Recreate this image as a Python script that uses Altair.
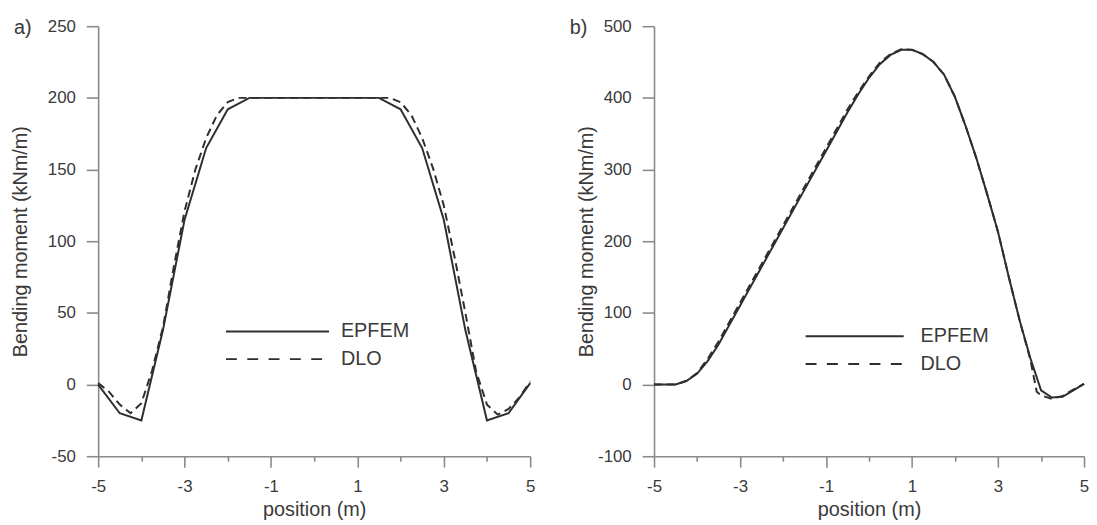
import altair as alt
import pandas as pd

# ---------------- data ----------------
# panel a) EPFEM
a_epfem_x = [-5, -4.5, -4, -3.5, -3, -2.5, -2, -1.5, -1, 0, 1, 1.5, 2, 2.5, 3, 3.5, 4, 4.5, 5]
a_epfem_y = [0, -20, -25, 38, 115, 165, 192, 200, 200, 200, 200, 200, 192, 165, 115, 38, -25, -20, 1]
# panel a) DLO
a_dlo_x = [-5, -4.75, -4.5, -4.25, -4, -3.75, -3.5, -3.25, -3, -2.75, -2.5, -2.25, -2, -1.75,
           0, 1.75, 2, 2.25, 2.5, 2.75, 3, 3.25, 3.5, 3.75, 4, 4.25, 4.5, 4.75, 5]
a_dlo_y = [1, -5, -14, -20, -13, 10, 40, 82, 121, 150, 172, 188, 197, 200,
           200, 200, 197, 188, 172, 151, 125, 89, 50, 9, -14, -21, -17, -9, 2]

# panel b) EPFEM
b_epfem_x = [-5, -4.75, -4.5, -4.25, -4, -3.75, -3.5, -3.25, -3, -2.5, -2, -1.5, -1, -0.5, -0.25,
             0, 0.25, 0.5, 0.75, 1, 1.25, 1.5, 1.75, 2, 2.25, 2.5, 2.75, 3, 3.25, 3.5, 3.75,
             4, 4.25, 4.5, 4.75, 5]
b_epfem_y = [0, 0, 0, 5, 15, 33, 56, 83, 110, 164, 218, 272, 326, 380, 405,
             428, 447, 460, 467, 467, 461, 450, 432, 401, 360, 315, 265, 213, 150, 90, 37,
             -8, -18, -17, -8, 1]
# panel b) DLO
b_dlo_x = [-5, -4.75, -4.5, -4.25, -4, -3.75, -3.5, -3.25, -3, -2.5, -2, -1.5, -1, -0.5, -0.25,
           0, 0.25, 0.5, 0.75, 1, 1.25, 1.5, 1.75, 2, 2.25, 2.5, 2.75, 3, 3.25, 3.5, 3.75,
           3.9, 4, 4.25, 4.5, 4.75, 5]
b_dlo_y = [0, 0, 0, 5, 16, 36, 60, 87, 114, 168, 222, 276, 330, 384, 408,
           430, 449, 461, 468, 467, 461, 450, 432, 401, 360, 315, 265, 213, 150, 90, 35,
           -10, -15, -20, -16, -7, 1]

legend_labels = ["EPFEM", "DLO"]
panel_tags = ["a)", "b)"]
y_title = "Bending moment (kNm/m)"
x_title = "position (m)"

INK = "#2e2e2e"
AXIS = "#8a8a8a"
TXT = "#3a3a3a"
FONT = "Liberation Sans"


def panel(ex, ey, dx, dy, ydom, ystep, ylab, tag, width, leg, ytpad):
    x_scale = alt.Scale(domain=[-5, 5], nice=False, zero=False)
    y_scale = alt.Scale(domain=ydom, nice=False, zero=False)
    x_axis = alt.Axis(
        values=list(range(-5, 6)),
        labelExpr="datum.value % 2 == 0 ? '' : toString(datum.value)",
        tickSize={"condition": {"test": "datum.value % 2 == 0", "value": 5}, "value": 11},
        labelPadding=12, labelFlush=False, labelOverlap=False, labelBound=False,
        title=x_title, titlePadding=5,
    )
    y_axis = alt.Axis(
        values=list(range(ydom[0], ydom[1] + 1, ystep)),
        labelExpr=f"datum.value % {ylab} == 0 ? toString(datum.value) : ''",
        tickSize={"condition": {"test": f"datum.value % {ylab} == 0", "value": 12}, "value": 5},
        labelPadding=11, labelFlush=False, labelOverlap=False,
        minExtent=52, maxExtent=52,
        title=y_title, titlePadding=ytpad,
    )
    df_e = pd.DataFrame({"x": ex, "y": ey})
    df_d = pd.DataFrame({"x": dx, "y": dy})
    e_line = alt.Chart(df_e).mark_line(color=INK, strokeWidth=2).encode(
        x=alt.X("x:Q", scale=x_scale, axis=x_axis),
        y=alt.Y("y:Q", scale=y_scale, axis=y_axis),
    )
    d_line = alt.Chart(df_d).mark_line(color=INK, strokeWidth=2, strokeDash=[8, 5]).encode(
        x=alt.X("x:Q", scale=x_scale),
        y=alt.Y("y:Q", scale=y_scale),
    )
    one = pd.DataFrame({"k": [0]})
    lx0, lx1, tx, r1, r2 = leg
    leg_solid = alt.Chart(one).mark_rule(color=INK, strokeWidth=2).encode(
        x=alt.value(lx0), x2=alt.value(lx1), y=alt.value(r1))
    leg_dash = alt.Chart(one).mark_rule(color=INK, strokeWidth=2, strokeDash=[11, 10.5]).encode(
        x=alt.value(lx0), x2=alt.value(lx1), y=alt.value(r2))
    leg_t1 = alt.Chart(one).mark_text(text=legend_labels[0], align="left", baseline="middle",
                                      fontSize=20, font=FONT, color=TXT).encode(
        x=alt.value(tx), y=alt.value(r1))
    leg_t2 = alt.Chart(one).mark_text(text=legend_labels[1], align="left", baseline="middle",
                                      fontSize=20, font=FONT, color=TXT).encode(
        x=alt.value(tx), y=alt.value(r2))
    tag_t = alt.Chart(one).mark_text(text=tag, align="left", baseline="middle",
                                     fontSize=20, font=FONT, color=TXT).encode(
        x=alt.value(-85), y=alt.value(1.5))
    return alt.layer(e_line, d_line, leg_solid, leg_dash, leg_t1, leg_t2, tag_t).properties(
        width=width, height=434)


left = panel(a_epfem_x, a_epfem_y, a_dlo_x, a_dlo_y, [-50, 250], 25, 50, panel_tags[0], 436,
             (129, 233, 245, 308, 336), 16)
right = panel(b_epfem_x, b_epfem_y, b_dlo_x, b_dlo_y, [-100, 500], 50, 100, panel_tags[1], 434,
              (153, 252, 269, 313, 341), 6)

chart = alt.hconcat(left, right, spacing=35).properties(
    padding={"left": 3, "top": 7, "right": 0, "bottom": 0}
).configure_view(stroke=None).configure_axis(
    grid=False,
    domainColor=AXIS, domainWidth=1.6,
    tickColor=AXIS, tickWidth=1.6,
    labelColor=TXT, labelFont=FONT, labelFontSize=17,
    titleColor=TXT, titleFont=FONT, titleFontSize=20, titleFontWeight="normal",
)

chart.save("out.html", embed_options={"renderer": "svg", "actions": False})
